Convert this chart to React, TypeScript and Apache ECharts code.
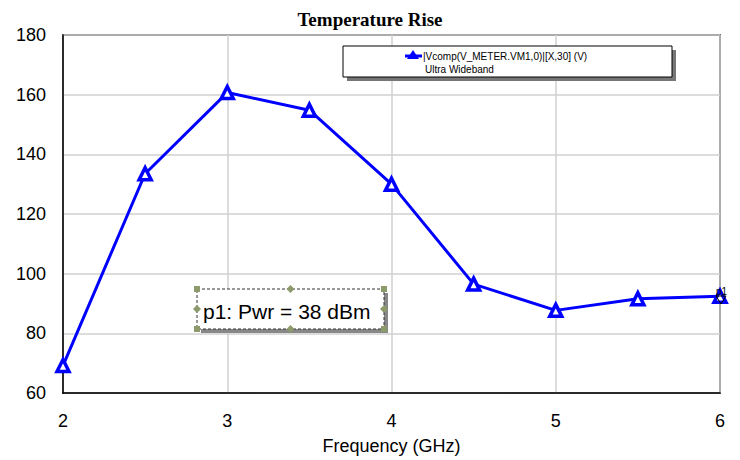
import React, { useEffect, useRef } from "react";
import * as echarts from "echarts";

const frequencies = [2, 2.5, 3, 3.5, 4, 4.5, 5, 5.5, 6];
const vcomp = [69.2, 133.5, 160.7, 154.8, 130, 96.5, 87.7, 91.6, 92.4];
const titleText = "Temperature Rise";
const xAxisName = "Frequency (GHz)";
const legendLine1 = "|Vcomp(V_METER.VM1,0)|[X,30] (V)";
const legendLine2 = "Ultra Wideband";
const noteText = "p1: Pwr = 38 dBm";

export default function App() {
  const ref = useRef<HTMLDivElement>(null);
  useEffect(() => {
    if (!ref.current) return;
    const chart = echarts.init(ref.current, null, { renderer: "svg" });
    const font = "'Liberation Sans', Arial, sans-serif";
    const handle = "#8c9a6c";
    const bx = 197, by = 289, bw = 187, bh = 40;
    const handles: any[] = [];
    [[bx, by], [bx + bw, by], [bx, by + bh], [bx + bw, by + bh]].forEach(([x, y]) =>
      handles.push({ type: "rect", shape: { x: x - 3, y: y - 3, width: 6, height: 6 }, style: { fill: handle }, z: 20 })
    );
    [[bx + bw / 2, by], [bx + bw / 2, by + bh], [bx, by + bh / 2], [bx + bw, by + bh / 2]].forEach(([x, y]) =>
      handles.push({ type: "polygon", shape: { points: [[x, y - 4], [x + 4, y], [x, y + 4], [x - 4, y]] }, style: { fill: handle }, z: 20 })
    );
    chart.setOption({
      animation: false,
      backgroundColor: "#fff",
      title: {
        text: titleText,
        left: "center",
        top: 5,
        textStyle: { fontFamily: "'Liberation Serif', 'Times New Roman', serif", fontWeight: "bold", fontSize: 19, color: "#000" },
      },
      grid: { left: 63, right: 20, top: 35, bottom: 63, show: true, borderColor: "#000", borderWidth: 1.5 },
      xAxis: {
        type: "value",
        min: 2,
        max: 6,
        interval: 1,
        name: xAxisName,
        nameLocation: "middle",
        nameGap: 44,
        nameTextStyle: { fontFamily: font, fontSize: 18, color: "#000" },
        axisLine: { lineStyle: { color: "#000", width: 1.5 } },
        axisTick: { show: false },
        axisLabel: { fontFamily: font, fontSize: 18, color: "#000", margin: 19 },
        splitLine: { show: true, lineStyle: { color: "#d0d0d0", width: 1.5 } },
      },
      yAxis: {
        type: "value",
        min: 60,
        max: 180,
        interval: 20,
        axisLine: { show: true, lineStyle: { color: "#000", width: 1.5 } },
        axisTick: { show: false },
        axisLabel: { fontFamily: font, fontSize: 18, color: "#000", margin: 17 },
        splitLine: { show: true, lineStyle: { color: "#d0d0d0", width: 1.5 } },
      },
      series: [
        {
          type: "line",
          data: frequencies.map((f, i) => [f, vcomp[i]]),
          lineStyle: { color: "#0000ff", width: 3 },
          symbol: "triangle",
          symbolSize: 12,
          itemStyle: { color: "#ffffff", borderColor: "#0000ff", borderWidth: 3.5 },
          z: 5,
        },
      ],
      graphic: [
        { type: "rect", shape: { x: 347, y: 50, width: 329, height: 31 }, style: { fill: "#777" }, z: 10 },
        { type: "rect", shape: { x: 343, y: 46, width: 329, height: 31 }, style: { fill: "#fff", stroke: "#000", lineWidth: 1 }, z: 11 },
        { type: "line", shape: { x1: 405, y1: 56, x2: 422, y2: 56 }, style: { stroke: "#0000ff", lineWidth: 3 }, z: 12 },
        { type: "polygon", shape: { points: [[413, 50], [419, 59], [407, 59]] }, style: { fill: "#0000ff" }, z: 12 },
        { type: "text", x: 423, y: 56, style: { text: legendLine1, fontFamily: font, fontSize: 10, fill: "#000", verticalAlign: "middle" }, z: 12 },
        { type: "text", x: 425, y: 69, style: { text: legendLine2, fontFamily: font, fontSize: 10, fill: "#000", verticalAlign: "middle" }, z: 12 },
        { type: "rect", shape: { x: bx + 4, y: by + 4, width: bw, height: bh }, style: { fill: "#888" }, z: 15 },
        { type: "rect", shape: { x: bx, y: by, width: bw, height: bh }, style: { fill: "#fff", stroke: "#333", lineWidth: 1, lineDash: [3, 2] }, z: 16 },
        { type: "text", x: 203, y: 311, style: { text: noteText, fontFamily: font, fontSize: 21, fill: "#000", verticalAlign: "middle" }, z: 17 },
        ...handles,
        { type: "text", x: 716, y: 291, style: { text: "p1", fontFamily: font, fontSize: 10, fill: "#000", verticalAlign: "middle" }, z: 18 },
        { type: "polygon", shape: { points: [[716, 296], [726, 296], [721, 304]] }, style: { fill: "none", stroke: "#000", lineWidth: 1 }, z: 18 },
      ],
    });
    return () => chart.dispose();
  }, []);
  return <div ref={ref} style={{ width: 740, height: 460, position: "absolute", left: 0, top: 0 }} />;
}
